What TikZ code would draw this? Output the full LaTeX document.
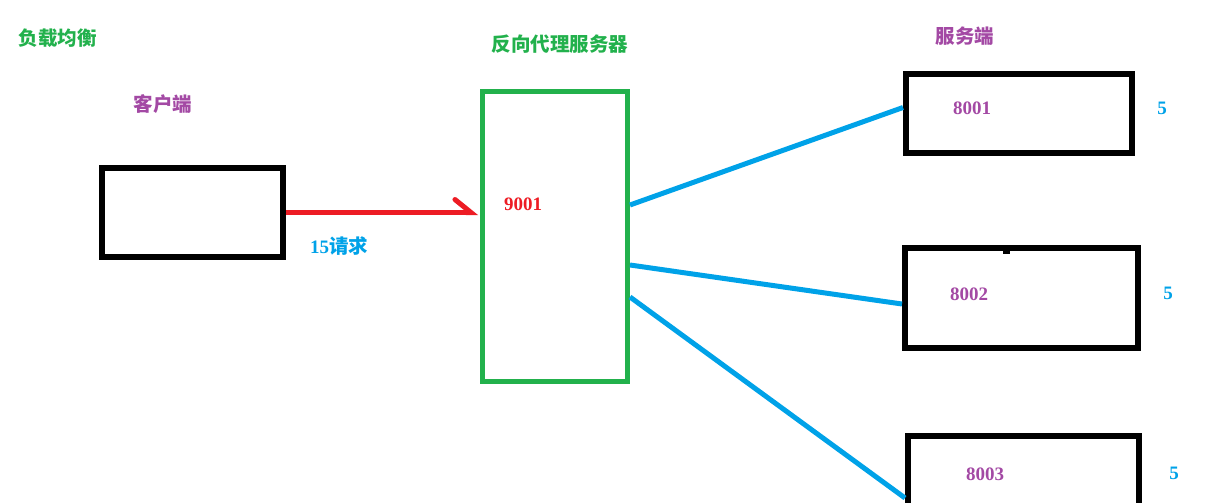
\documentclass[tikz,border=0pt]{standalone}
\usepackage{fontspec}
\setmainfont{Liberation Serif}
\newfontfamily\cjk{Noto Sans CJK SC}
\usetikzlibrary{arrows.meta,calc}
\definecolor{pgreen}{RGB}{34,177,76}
\definecolor{ppurple}{RGB}{163,73,164}
\definecolor{pblue}{RGB}{0,162,232}
\definecolor{pred}{RGB}{237,28,36}
\tikzset{
  box/.style={draw=black,line width=6pt,fill=none,inner sep=0pt},
  proxybox/.style={draw=pgreen,line width=5pt,inner sep=0pt},
  cn/.style={font=\cjk\bfseries\fontsize{19.5}{22}\selectfont,inner sep=0pt},
  num/.style={font=\bfseries\fontsize{19}{22}\selectfont,inner sep=0pt},
  link/.style={draw=pblue,line width=5pt},
  req/.style={draw=pred,line width=5pt,-{Straight Barb[left,length=16pt,width=26pt,line cap=round]}}
}
\begin{document}
\begin{tikzpicture}[x=1pt,y=-1pt]
\useasboundingbox (0,0) rectangle (1210,503);
\clip (0,0) rectangle (1210,503);
% boxes
\node[box,minimum width=181pt,minimum height=89pt] (client) at (192.5,212.5) {};
\node[proxybox,minimum width=145pt,minimum height=290pt] (proxy) at (555,236.5) {};
\node[box,minimum width=226pt,minimum height=79pt] (s1) at (1019,113.5) {};
\node[box,minimum width=233pt,minimum height=100pt] (s2) at (1021.5,298) {};
\node[box,minimum width=231pt,minimum height=84pt] (s3) at (1023.5,478) {};
\fill[black] (1003,246) rectangle (1010,254);
% labels
\node[cn,text=pgreen] (title) at (58,38) {负载均衡};
\node[cn,text=ppurple] (clientlbl) at (163,104) {客户端};
\node[cn,text=pgreen] (proxylbl) at (560,44) {反向代理服务器};
\node[cn,text=ppurple] (serverlbl) at (965,36) {服务端};
\node[num,text=pred] (p9001) at (523,204) {9001};
\node[num,text=ppurple] (p8001) at (972,108) {8001};
\node[num,text=ppurple] (p8002) at (969,294) {8002};
\node[num,text=ppurple] (p8003) at (985,474) {8003};
\node[num,text=pblue] (w1) at (1162,108) {5};
\node[num,text=pblue] (w2) at (1168,293) {5};
\node[num,text=pblue] (w3) at (1174,473) {5};
\node[inner sep=0pt,text=pblue] (reqlbl) at (339,246) {{\bfseries\fontsize{19}{22}\selectfont 15}{\cjk\bfseries\fontsize{19.5}{22}\selectfont 请求}};
% connectors
\draw[req] (client.east) -- ($(proxy.west |- client.east)+(-2,0)$);
\draw[link] (proxy.east) ++(0,-31.5) -- ($(s1.west)+(0,-6)$);
\draw[link] (proxy.east) ++(0,28.5) -- ($(s2.west)+(0,6)$);
\draw[link] (proxy.east) ++(0,60.5) -- ($(s3.west)+(0,20)$);
\end{tikzpicture}
\end{document}
